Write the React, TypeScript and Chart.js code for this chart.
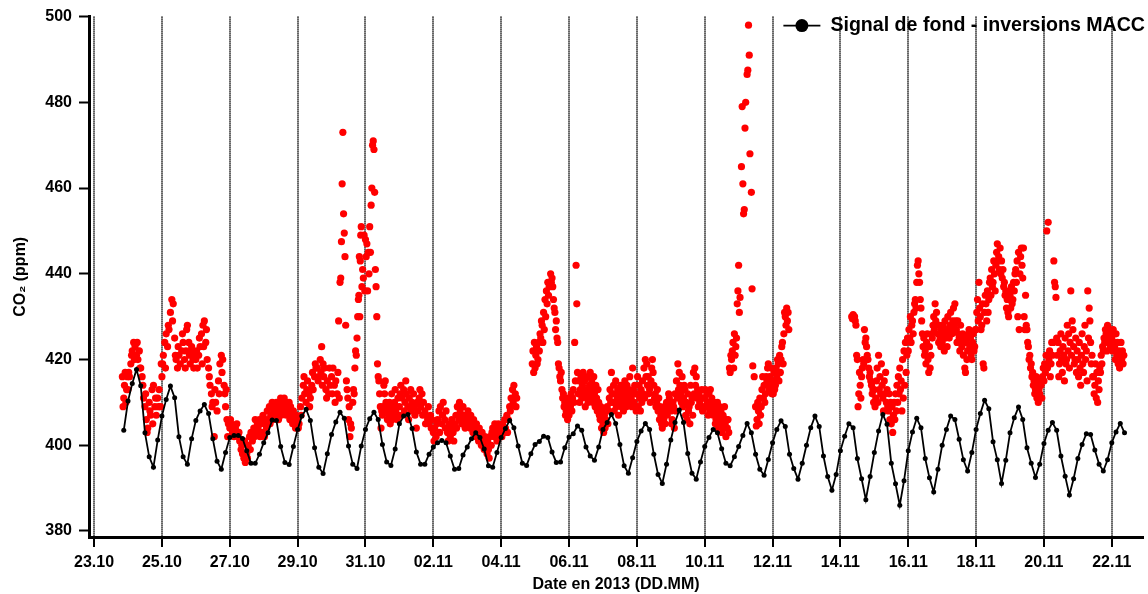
import { useEffect, useRef } from "react";
import { Chart, registerables } from "chart.js";

Chart.register(...registerables);

const N = null;

// Time axis: days elapsed since 23.10.2013 00:00
const xMin = -0.15;
const xMax = 30.92;
const tickDays = [0, 2, 4, 6, 8, 10, 12, 14, 16, 18, 20, 22, 24, 26, 28, 30];
const tickLabels = [
  "23.10", "25.10", "27.10", "29.10", "31.10", "02.11", "04.11", "06.11",
  "08.11", "10.11", "12.11", "14.11", "16.11", "18.11", "20.11", "22.11",
];

const yMin = 378.6;
const yMax = 500;
const yTicks = [380, 400, 420, 440, 460, 480, 500];

// Background signal from the MACC inversions, every 3 h starting 23.10 21:00
const backgroundLabel = "Signal de fond - inversions MACC";
const backgroundStartDay = 0.875;
const backgroundStepDays = 0.125;
const backgroundCO2 = [
  403.5, 410.3, 414.4, 417.7, 413.9, 402.9, 397.3, 394.9, 401.2, 406.8,
  410.7, 413.8, 411.1, 402.0, 397.3, 395.6, 401.5, 405.8, 408.0, 409.5,
  407.4, 401.5, 396.3, 394.4, 398.3, 401.8, 402.3, 402.3, 401.6, 398.7,
  395.8, 395.8, 397.9, 400.6, 402.9, 405.9, 405.8, 399.7, 396.0, 395.5,
  399.7, 403.7, 406.8, 408.4, 405.8, 399.4, 394.9, 393.4, 398.0, 402.5,
  405.4, 407.7, 406.3, 399.8, 395.6, 394.6, 399.8, 403.7, 406.2,
  407.7, 406.0, 400.2, 396.1, 395.3, 399.1, 405.0, 406.8, 407.2, 403.9,
  398.4, 395.6, 395.6, 397.9, 399.6, 400.6, 401.1, 400.6, 397.5, 394.4,
  394.6, 397.7, 399.6, 401.5, 402.9, 401.8, 399.1, 395.2, 394.9, 398.3,
  401.8, 403.9, 405.8, 404.1, 399.8, 395.8, 395.3, 398.0, 400.2, 400.9,
  402.1, 401.8, 398.4, 396.0, 396.1, 399.4, 401.9, 402.7, 404.5, 403.5,
  399.6, 397.5, 396.5, 399.6, 403.7, 405.3, 407.2, 405.1, 400.2, 395.2,
  393.5,
  397.1, 400.9, 403.3, 405.1, 403.7, 397.9, 393.2, 391.1, 395.6, 401.2,
  405.3, 408.2, 405.3, 398.1, 393.5, 392.1, 396.1, 399.7, 401.8, 403.7,
  402.9, 399.2, 395.8, 395.2, 397.3, 399.7, 402.3, 405.1, 402.9, 397.9,
  394.4, 393.0, 396.7, 400.6, 403.7, 405.7, 404.4, 397.9, 394.6, 392.1,
  395.8, 400.0, 404.1, 406.8, 404.4, 397.5, 392.7, 389.5, 393.2, 398.7,
  402.1, 405.0, 404.1, 396.9, 392.2, 387.3, 392.7, 398.3, 403.3, 407.2,
  404.9,
  395.8, 391.0, 386.0, 391.7, 398.7, 403.1, 406.3, 404.1, 396.9, 392.4,
  389.1, 394.4, 400.0, 403.7, 406.8, 406.0, 401.4, 396.6, 394.0, 398.3,
  403.7, 407.4, 410.5, 408.5, 400.8, 396.6, 391.1, 396.5, 402.9, 406.4,
  408.9, 406.0, 399.4, 395.8, 392.5, 395.6, 400.4, 403.5, 405.3, 403.5,
  397.5, 392.8, 388.4, 392.2, 396.9, 400.2, 402.7, 402.5, 398.9, 395.6,
  394.0, 396.6, 400.6, 403.1, 405.1, 402.9,
];

// Measured CO2, one list per day with 24 hourly slots;
// a slot holds one reading, several readings within that hour, or N when missing.
const obs_2310 = [N, N, N, N, N, N, N, N, N, N, N, N, N, N, N, N, N, N, N, N, [416, 409], [411, 414], [417, 410], [413, 416]];
const obs_2410 = [[413, 417], 416, [419, 421], 422, [424, 420], 423, [421, 424], 420, [422, 418], 418, [416, 414], 411, [409, 412], [406, 403], 404, [410, 408], 407, [413, 405], 414, [409, 411], 407, [411, 409], 413, [409, 419]];
const obs_2510 = [[416, 419], 421, [424, 418], 426, [423, 428], 427, 431, [434, 429], 433, [425, 421], 420, [418, 423], 421, 419, [422, 426], 424, [420, 418], [422, 427], 428, [424, 421], [419, 422], 423, [420, 418], 421];
const obs_2610 = [[420, 422], 418, [421, 425], 423, [426, 419], [428, 423], 429, [424, 427], 420, [418, 416], 414, [412, 409], 410, [402, 413], 410, 408, [415, 412], 419, [421, 417], 420, [414, 412], [409, 413], [406, 402], 405];
const obs_2710 = [[404, 406], 405, [403, 404], 402, [404, 403], 405, [402, 403], 401, [399, 400], 398, [397, 401], 396, [398, 397], 400, [402, 399], 403, 401, [404, 402], 406, [403, 405], 404, [406, 402], 405, [403, 407]];
const obs_2810 = [[405, 402], 406, [404, 408], 406, [409, 405], 407, [410, 406], 408, [409, 407], 410, [408, 406], 409, [411, 407], 410, [408, 411], 409, [407, 410], 408, [410, 406], 409, [407, 405], 408, [406, 404], 407];
const obs_2910 = [[406, 404], 405, [409, 407], 411, [414, 416], 412, [410, 413], 415, [412, 409], 411, [414, 417], 413, [416, 419], 418, [418, 415], 416, [420, 417], [423, 414], [419, 416], 418, [413, 411], 415, [412, 418], 414];
const obs_3010 = [[416, 412], 418, [414, 410], 415, [412, 417], [429, 411], [438, 439], [447.5, 461], [473, 454], [449.5, 444], [428, 415], [413, 411], [406, 409], [402, 405], 404, [410, 413], [412, 418], [422, 421], [425, 430], [434, 435, 444], [430, 443, 449], [451, 437], [441, 439], [449, 436]];
const obs_3110 = [[448, 444], [447, 436], [445, 440], [451, 445], [456, 460], [470, 471], [469, 459], [441, 437], [430, 419], [416, 415], [412, 409], [404, 408], [407, 409], [414, 412], [415, 410], [408, 406], [409, 407], [410, 405], [408, 412], [406, 409], [407, 410], [413, 408], [409, 406], [411, 407]];
const obs_0111 = [[409, 412], [414, 407], 411, [413, 408], [410, 415], 412, [409, 406], 411, [413, 408], 410, [412, 409], 407, [404, 410], 408, [411, 413], 409, [412, 407], 410, [408, 405], 407, [406, 409], 405, [407, 404], 406];
const obs_0211 = [[403, 401], 404, [402, 405], 406, [408, 403], 409, [405, 407], 410, [406, 404], 408, [403, 401], 405, [402, 404], 406, [403, 401], 405, [407, 404], 409, [406, 410], 408, [405, 407], 409, [406, 404], 407];
const obs_0311 = [[405, 408], 406, [404, 407], 405, [403, 406], 404, [402, 405], 403, [401, 404], 402, [400, 403], 401, [399, 402], 400, [398, 401], [399, 397], 402, [400, 403], 404, [402, 405], 403, [401, 404], 405, [403, 402]];
const obs_0411 = [[404, 402], 405, [403, 406], 404, [407, 403], 406, [409, 408], 411, [413, 410], 414, [412, 409], 411, N, N, N, N, N, N, N, N, N, N, [419, 422], [417, 424]];
const obs_0511 = [[418, 421], [423, 419], [420, 424], [422, 426], [425, 429], [428, 424], [431, 427], [434, 430], [436, 433], [438, 435], 437, [440, 438], [439, 437], [434, 432], [431, 427], [429, 425], [424, 419], [418, 416], [415, 417], [413, 411], [412, 409], [410, 407], [408, 411], [406, 409]];
const obs_0611 = [[407, 410], [409, 412], [408, 411], [413, 410], [424, 415], [442, 433], [417, 412], [415, 410], [413, 416], [411, 414], [417, 412], [415, 409], [413, 411], [416, 410], [412, 414], [417, 411], [415, 413], [410, 416], [412, 409], [414, 411], [408, 413], [410, 407], [406, 409], [404, 408]];
const obs_0711 = [[405, 403], [407, 404], 406, [409, 405], [408, 411], [413, 410], [417, 412], [410, 414], [408, 412], [415, 409], [411, 413], [407, 410], [412, 414], [409, 411], [413, 408], [410, 415], [412, 409], [414, 411], [410, 413], [416, 412], [411, 409], [418, 413], [410, 414], [412, 408]];
const obs_0811 = [[412, 416], [409, 414], [411, 408], [413, 410], [415, 412], [418, 411], [420, 416], [419, 414], [416, 412], [413, 410], [415, 418], [420, 417], [414, 411], [412, 409], [410, 413], [408, 411], [406, 409], [407, 405], [404, 408], [406, 409], [405, 408], [410, 407], [408, 412], [411, 409]];
const obs_0911 = [[408, 405], [406, 410], [409, 404], [412, 408], [415, 411], [419, 413], [417, 414], [412, 410], [416, 409], [411, 414], [413, 407], [410, 406], [412, 408], [409, 405], [414, 410], [411, 407], [417, 412], [418, 414], [416, 411], [413, 409], [412, 410], [409, 411], [413, 408], [411, 409]];
const obs_1011 = [[411, 413], [409, 412], [410, 407], [412, 408], [413, 410], [411, 409], [407, 410], [408, 405], [406, 409], [410, 404], [407, 409], [405, 408], [403, 406], [407, 404], [409, 405], [402, 406], [404, 406], [403, 418], [417, 421], [420, 422], [424, 418], [426, 421], [423, 425], [433, 436]];
const obs_1111 = [[442, 431], 434.5, [465, 479], [461, 454], [455, 474], 480, [486.5, 487.5], [498, 491], 468, [459, 436.5], 418.5, 416, [409, 404.5], [406, 410], [408, 405], [411, 407], [409, 413], [416, 411], [414, 410], [412, 416], [415, 418], [419, 413], [416, 414], [418, 412]];
const obs_1211 = [[415, 412], [417, 413], [414, 418], [416, 420], [419, 415], [421, 417], [420, 423], [424, 419], [426, 431], [430, 428], [432, 429], [431, 427], N, N, N, N, N, N, N, N, N, N, N, N];
const obs_1311 = [N, N, N, N, N, N, N, N, N, N, N, N, N, N, N, N, N, N, N, N, N, N, N, N];
const obs_1411 = [N, N, N, N, N, N, N, N, [430, 429.5], 430.5, [430, 429], [428, 421], [420, 409], [412, 417], [414, 411], [416, 418], [420, 419], [427, 424], [425, 423], [421, 420], [418, 416], [417, 415], [414, 412], [413, 410]];
const obs_1511 = [[413, 409], [411, 415], [418, 410], [421, 413], [416, 412], [419, 414], [411, 408], [415, 412], [417, 410], [413, 409], [408, 412], [406, 410], [405, 409], [403, 407], [410, 406], [412, 408], [414, 410], [416, 412], [418, 413], [415, 408], [420, 411], [422, 414], [424, 417], [421, 425]];
const obs_1611 = [[422, 427], [425, 430], [424, 428], [429, 426], [431, 433], [434, 432], [438, 442], [443, 440], [438, 434], [432, 429], [426, 423], [425, 421], [422, 419], [424, 426], [420, 417], [423, 418], [421, 426], [425, 428], [430, 427], [433, 429], [431, 428], [426, 424], [428, 425], [423, 427]];
const obs_1711 = [[424, 428], [426, 422], [429, 425], [427, 423], [430, 426], [425, 428], [431, 427], [426, 429], [432, 428], [433, 429], [427, 424], [429, 426], [425, 422], [428, 424], [423, 426], [421, 425], [418, 417], [424, 420], [422, 426], [427, 423], [425, 421], [420, 424], [426, 422], [423, 427]];
const obs_1811 = [[427, 431], [434, 429], [438, 432], [430, 427], [428, 433], [419, 418], [431, 435], [433, 429], [436, 431], [434, 438], [439, 435], [441, 437], [438, 443], [440, 436], [442, 445], [447, 443], [444, 441], [446, 440], [443, 439], [441, 437], [438, 435], [436, 432], [434, 431], [430, 436]];
const obs_1911 = [[435, 432], [437, 433], [434, 438], [436, 440], [441, 438], [443, 430], [445, 427], [440, 444], [446, 442], [439, 446], [430, 427], [435, 428], [427, 424], [423, 420], [421, 418], [419, 416], [417, 414], [415, 412], [413, 416], [411, 414], [410, 413], [412, 415], [414, 411], [416, 418]];
const obs_2011 = [[415, 419], [417, 421], [450, 418], [452, 420], [422, 416], [419, 424], [421, 424], [443, 438], [437, 434.5], [425, 421], [424, 416], [419, 422], [426, 420], [417, 423], [421, 415], [425, 419], [420, 428], [422, 426], [418, 424], [436, 421], [429, 427], [423, 419], [420, 425], [417, 422]];
const obs_2111 = [[420, 416], [424, 418], [414, 421], [426, 419], [417, 423], [428, 420], [422, 415], [436, 425], [432, 429], [424, 419], [421, 416], [416, 412], [414, 419], [411, 417], [410, 415], [413, 418], [417, 421], [419, 423], [422, 425], [424, 427], [426, 422], [428, 424], [425, 427], [423, 426]];
const obs_2211 = [[425, 422], [427, 424], [423, 420], [426, 421], [424, 419], [422, 418], [421, 424], [420, 422], [419, 421], N, N, N, N, N, N, N, N, N, N, N, N, N, N, N];

const observationDays = [
  obs_2310, obs_2410, obs_2510, obs_2610, obs_2710, obs_2810, obs_2910, obs_3010, obs_3110,
  obs_0111, obs_0211, obs_0311, obs_0411, obs_0511, obs_0611, obs_0711, obs_0811, obs_0911,
  obs_1011, obs_1111, obs_1211, obs_1311, obs_1411, obs_1511, obs_1611, obs_1711, obs_1811,
  obs_1911, obs_2011, obs_2111, obs_2211,
];

const backgroundPoints = backgroundCO2.map((v, i) => ({
  x: backgroundStartDay + i * backgroundStepDays,
  y: v,
}));

const observationPoints: { x: number; y: number }[] = [];
observationDays.forEach((day, d) => {
  day.forEach((slot: any, h: number) => {
    if (slot == null) return;
    const readings: number[] = Array.isArray(slot) ? slot : [slot];
    readings.forEach((v, k) => {
      observationPoints.push({ x: d + (h + k / readings.length) / 24, y: v });
    });
  });
});

const FONT_FAMILY = '"Liberation Sans", Arial, Helvetica, sans-serif';
const axisFont = { family: FONT_FAMILY, size: 16, weight: "bold" as const };

// Legend entry drawn inside the plot, flush with its top-right corner
const cornerLegend = {
  id: "cornerLegend",
  afterDraw(chart: any) {
    const { ctx, chartArea } = chart;
    const label = String(chart.data.datasets[0].label);
    ctx.save();
    ctx.font = `bold 19.6px ${FONT_FAMILY}`;
    ctx.textBaseline = "middle";
    ctx.fillStyle = "#000";
    const textWidth = ctx.measureText(label).width;
    const yMid = chartArea.top + 9;
    const textX = chartArea.right + 2 - textWidth;
    ctx.fillText(label, textX, yMid);
    const lineEnd = textX - 10;
    const lineStart = lineEnd - 37;
    ctx.strokeStyle = "#000";
    ctx.lineWidth = 1.8;
    ctx.beginPath();
    ctx.moveTo(lineStart, yMid);
    ctx.lineTo(lineEnd, yMid);
    ctx.stroke();
    ctx.beginPath();
    ctx.arc((lineStart + lineEnd) / 2, yMid, 6.5, 0, Math.PI * 2);
    ctx.fill();
    ctx.restore();
  },
};

export default function App() {
  const canvasRef = useRef<HTMLCanvasElement>(null);

  useEffect(() => {
    const canvas = canvasRef.current;
    if (!canvas) return;
    const chart = new Chart(canvas, {
      type: "scatter",
      data: {
        datasets: [
          {
            label: backgroundLabel,
            data: backgroundPoints,
            showLine: true,
            borderColor: "#000",
            borderWidth: 1.8,
            backgroundColor: "#000",
            pointBackgroundColor: "#000",
            pointBorderWidth: 0,
            pointRadius: 2.5,
          },
          {
            label: "Mesures",
            data: observationPoints,
            showLine: false,
            backgroundColor: "#ff0000",
            pointBackgroundColor: "#ff0000",
            pointBorderWidth: 0,
            borderWidth: 0,
            pointRadius: 3.6,
          },
        ],
      },
      options: {
        animation: false,
        responsive: true,
        maintainAspectRatio: false,
        layout: { padding: { top: 16, right: 5, bottom: 0, left: 0 } },
        plugins: {
          legend: { display: false },
          tooltip: { enabled: false },
        },
        scales: {
          x: {
            type: "linear",
            min: xMin,
            max: xMax,
            afterBuildTicks: (scale: any) => {
              scale.ticks = tickDays.map((value) => ({ value }));
            },
            afterFit: (scale: any) => {
              scale.height = 57;
            },
            ticks: {
              autoSkip: false,
              maxRotation: 0,
              padding: 6,
              color: "#000",
              font: axisFont,
              callback: (_v: any, i: number) => tickLabels[i],
            },
            grid: {
              display: true,
              drawOnChartArea: true,
              drawTicks: true,
              color: "#000",
              lineWidth: 2,
              tickLength: 10,
              tickWidth: 2,
              tickColor: "#000",
              tickBorderDash: [],
            },
            border: { display: true, color: "#000", width: 3, dash: [1, 1] },
            title: {
              display: true,
              text: "Date en 2013 (DD.MM)",
              color: "#000",
              font: axisFont,
              padding: { top: 0, bottom: 0 },
            },
          },
          y: {
            type: "linear",
            min: yMin,
            max: yMax,
            afterBuildTicks: (scale: any) => {
              scale.ticks = yTicks.map((value) => ({ value }));
            },
            afterFit: (scale: any) => {
              scale.width = 89;
            },
            ticks: { padding: 7, color: "#000", font: axisFont },
            grid: {
              display: true,
              drawOnChartArea: false,
              drawTicks: true,
              tickLength: 10,
              tickWidth: 2,
              tickColor: "#000",
            },
            border: { display: true, color: "#000", width: 3 },
            title: {
              display: true,
              text: "CO\u2082 (ppm)",
              color: "#000",
              font: axisFont,
              padding: { top: 11, bottom: 0 },
            },
          },
        },
      },
      plugins: [cornerLegend],
    });
    return () => chart.destroy();
  }, []);

  return (
    <div
      style={{
        position: "fixed",
        left: 0,
        top: 0,
        width: "1148px",
        height: "594px",
        background: "#fff",
      }}
    >
      <canvas ref={canvasRef} />
    </div>
  );
}
